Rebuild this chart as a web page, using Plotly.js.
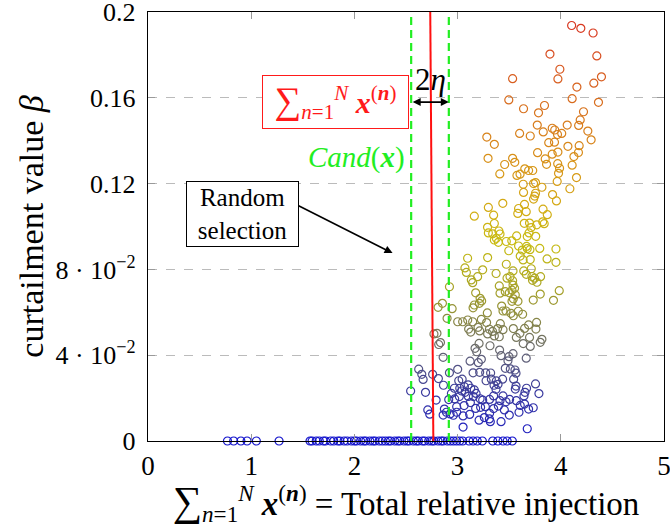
<!DOCTYPE html>
<html>
<head>
<meta charset="utf-8">
<script src="https://cdn.plot.ly/plotly-3.0.1.min.js"></script>
<style>html,body{margin:0;padding:0;background:#fff;}#chart{width:670px;height:527px;}</style>
</head>
<body>
<div id="chart"></div>
<script>
// Upper (red / orange) points
const topX = [4.105,4.194,4.313,3.895,4.349,3.991,3.533,3.972,4.394,4.320,4.156,3.496,4.110,4.365,3.639,3.842,3.784,4.220,4.188,3.772,4.062,4.173];
const topY = [0.1937,0.1924,0.1902,0.1804,0.1795,0.1733,0.1689,0.1688,0.1698,0.1668,0.1650,0.1590,0.1596,0.1579,0.1549,0.1564,0.1530,0.1535,0.1497,0.1473,0.1473,0.1471];
// Orange band
const orangeX = [4.262,4.294,3.283,3.356,3.601,3.704,3.830,3.917,3.941,3.968,4.009,3.883,3.939,4.069,4.178,4.171,4.127,3.775,3.917,3.972,3.849,3.862,3.295,3.533,3.554,3.456,4.110,3.970,3.988,3.978,3.409,3.575,3.605,3.651,3.688,3.728,4.152,3.965,3.636,3.736,3.755,3.817,4.088];
const orangeY = [0.1445,0.1404,0.1417,0.1383,0.1434,0.1422,0.1441,0.1458,0.1450,0.1429,0.1434,0.1391,0.1393,0.1374,0.1377,0.1345,0.1326,0.1344,0.1337,0.1347,0.1315,0.1290,0.1318,0.1318,0.1299,0.1289,0.1286,0.1293,0.1272,0.1248,0.1245,0.1238,0.1244,0.1269,0.1261,0.1261,0.1228,0.1210,0.1197,0.1200,0.1205,0.1183,0.1176];
// Yellow band
const yellowX = [3.639,3.755,3.747,3.736,3.920,3.958,3.438,3.648,3.298,3.591,3.583,3.665,3.828,3.349,3.869,3.162,3.356,3.646,3.697,3.767,3.825,3.839,3.290,3.400,3.712,3.692,3.757,3.340,3.411,3.375,3.356,3.472,3.525,3.572,3.395,3.675,3.298,3.496,3.591,3.627,3.675,3.668,3.701,3.607,3.635,3.704,3.796,3.867,3.953,3.953,3.097,3.291,3.472];
const yellowY = [0.1159,0.1155,0.1142,0.1128,0.1149,0.1119,0.1108,0.1103,0.1089,0.1084,0.1061,0.1069,0.1081,0.1053,0.1055,0.1048,0.1014,0.1015,0.1016,0.1008,0.1022,0.1013,0.0996,0.0979,0.0995,0.0970,0.0954,0.0966,0.0965,0.0945,0.0937,0.0930,0.0933,0.0956,0.0926,0.0953,0.0970,0.0887,0.0909,0.0890,0.0897,0.0907,0.0892,0.0862,0.0844,0.0846,0.0898,0.0849,0.0895,0.0833,0.0852,0.0855,0.0824];
// Olive band
const oliveX = [3.071,3.085,3.243,3.373,3.537,3.641,3.665,3.714,3.720,3.746,3.726,3.769,3.133,3.146,3.194,3.479,3.508,3.533,3.537,3.552,3.527,3.501,3.559,3.540,3.527,3.585,3.404,3.411,3.462,3.175,2.921,3.218,3.233,3.211,3.162,3.150,3.288,2.853,2.811,2.947,2.898,3.733,3.801,3.929,3.985,3.427,3.440,3.469,3.517,3.540,3.588,3.630,3.001,3.049,3.098,3.146,3.230,3.281,3.107,3.127,3.198,3.214,3.308,3.339,3.388,3.414,3.440,3.404,3.356,3.291,3.540,3.569,3.604,3.649,3.688,3.765,3.759,3.817,3.697,2.771,2.800,3.804];
const oliveY = [0.0807,0.0786,0.0798,0.0781,0.0793,0.0793,0.0777,0.0803,0.0767,0.0759,0.0749,0.0740,0.0751,0.0738,0.0766,0.0759,0.0766,0.0747,0.0727,0.0712,0.0703,0.0691,0.0681,0.0663,0.0651,0.0651,0.0723,0.0689,0.0696,0.0691,0.0719,0.0665,0.0653,0.0642,0.0634,0.0621,0.0597,0.0642,0.0623,0.0617,0.0572,0.0657,0.0685,0.0656,0.0701,0.0629,0.0606,0.0606,0.0595,0.0584,0.0605,0.0591,0.0556,0.0556,0.0564,0.0556,0.0567,0.0552,0.0522,0.0508,0.0530,0.0513,0.0521,0.0511,0.0524,0.0547,0.0519,0.0486,0.0490,0.0499,0.0524,0.0483,0.0502,0.0525,0.0541,0.0553,0.0522,0.0474,0.0483,0.0499,0.0502,0.0766];
// Grey transition band
const greyX = [2.834,2.817,2.860,3.169,3.185,3.208,3.121,3.201,3.230,3.314,3.407,3.421,3.498,3.488,3.537,3.665,3.636,3.704,3.801,3.462,3.511,3.556,3.566,2.921];
const greyY = [0.0459,0.0450,0.0390,0.0432,0.0416,0.0455,0.0372,0.0365,0.0381,0.0444,0.0424,0.0398,0.0393,0.0374,0.0407,0.0386,0.0454,0.0441,0.0460,0.0339,0.0336,0.0331,0.0316,0.0318];
// Blue cluster
const blueX = [2.623,2.653,2.666,2.545,2.689,2.758,2.814,2.863,2.792,2.711,2.730,2.914,2.872,2.892,2.860,2.927,3.001,3.011,3.044,3.066,3.102,3.127,3.162,3.179,3.150,3.214,3.272,3.320,3.276,3.327,3.353,3.372,3.349,3.310,3.392,3.375,3.436,3.543,3.566,3.559,3.643,3.668,3.653,3.755,3.788,3.733,3.688,3.649,3.607,3.569,3.504,3.469,3.440,3.411,3.395,3.349,3.310,3.269,3.223,3.175,3.117,3.053,2.991,2.972,3.017,3.063,3.124,2.991,2.959,2.940,2.969,3.243,3.259,3.308,3.421,3.501,3.453,3.595,3.053,3.675,3.208,3.317,3.218,3.153,3.104,3.073,3.040,3.021];
const blueY = [0.0335,0.0311,0.0287,0.0233,0.0227,0.0311,0.0291,0.0260,0.0191,0.0145,0.0125,0.0193,0.0149,0.0134,0.0121,0.0126,0.0334,0.0281,0.0288,0.0253,0.0262,0.0246,0.0238,0.0222,0.0318,0.0320,0.0318,0.0317,0.0281,0.0288,0.0260,0.0241,0.0210,0.0194,0.0264,0.0280,0.0288,0.0288,0.0256,0.0242,0.0210,0.0246,0.0227,0.0266,0.0221,0.0155,0.0149,0.0172,0.0166,0.0188,0.0194,0.0183,0.0210,0.0188,0.0163,0.0151,0.0129,0.0160,0.0157,0.0152,0.0124,0.0117,0.0160,0.0196,0.0207,0.0165,0.0179,0.0134,0.0120,0.0222,0.0246,0.0191,0.0109,0.0103,0.0090,0.0121,0.0145,0.0134,0.0065,0.0057,0.0097,0.0090,0.0197,0.0207,0.0208,0.0227,0.0233,0.0246];
// Points with zero curtailment
const zeroX = [0.77,0.83,0.90,0.96,1.05,1.27,1.57,1.59,1.63,1.66,1.70,1.72,1.77,1.80,1.84,1.86,1.90,1.93,1.97,2.00,2.02,2.06,2.09,2.11,2.15,2.18,2.20,2.24,2.27,2.30,2.33,2.35,2.39,2.42,2.44,2.48,2.51,2.53,2.57,2.60,2.62,2.66,2.68,2.72,2.75,2.77,2.81,2.84,2.86,2.90,2.93,2.96,2.99,3.02,3.05,3.11,3.15,3.19,3.24,3.34,3.39,3.44,3.48,3.53];
const zeroY = [0,0,0,0,0,0,0,0,0,0,0,0,0,0,0,0,0,0,0,0,0,0,0,0,0,0,0,0,0,0,0,0,0,0,0,0,0,0,0,0,0,0,0,0,0,0,0,0,0,0,0,0,0,0,0,0,0,0,0,0,0,0,0,0];

// Reference lines
const sumLineX = [2.765, 2.735];
const sumLineY = [0, 0.2];
const candLow = 2.55;
const candHigh = 2.915;

// Axis ticks
const yTickVals = [0, 0.04, 0.08, 0.12, 0.16, 0.2];
const yTickText = ['0', '4 \u00b7 10<sup>\u22122</sup>', '8 \u00b7 10<sup>\u22122</sup>', '0.12', '0.16', '0.2'];
const xTickVals = [0, 1, 2, 3, 4, 5];
const xTickText = ['0', '1', '2', '3', '4', '5'];

const allX = [].concat(zeroX, blueX, greyX, oliveX, yellowX, orangeX, topX);
const allY = [].concat(zeroY, blueY, greyY, oliveY, yellowY, orangeY, topY);

const FONT = 'Liberation Serif, Times New Roman, serif';
const green = '#22ee22';
const SUM = '<span style="font-size:1.25em">\u2211</span><sub><i>n</i>=1</sub><sup><i>N</i></sup> <b><i>x</i></b><sup>(<b><i>n</i></b>)</sup>';

const traces = [
  {
    type: 'scatter', mode: 'markers', x: allX, y: allY, cliponaxis: false,
    marker: {
      symbol: 'circle-open', size: 8,
      color: allY, cmin: 0, cmax: 0.2, showscale: false,
      colorscale: [[0,'#1414cc'],[0.05,'#2a2ab4'],[0.12,'#3c3c9c'],[0.18,'#585880'],[0.24,'#76765e'],[0.3,'#92903a'],[0.38,'#b0aa20'],[0.46,'#c8bc10'],[0.55,'#d4aa14'],[0.65,'#d89218'],[0.75,'#d8781c'],[0.88,'#d85420'],[1,'#d82c20']],
      line: {width: 1.2}
    },
    hoverinfo: 'x+y'
  },
  {type: 'scatter', mode: 'lines', x: [candLow, candLow], y: [0, 0.2], line: {color: green, width: 2.2, dash: '8px,5px'}},
  {type: 'scatter', mode: 'lines', x: [candHigh, candHigh], y: [0, 0.2], line: {color: green, width: 2.2, dash: '8px,5px'}},
  {type: 'scatter', mode: 'lines', x: sumLineX, y: sumLineY, line: {color: '#ff1010', width: 2}, cliponaxis: false}
];

const layout = {
  width: 670, height: 527,
  margin: {l: 148, r: 6, t: 12, b: 86},
  paper_bgcolor: '#fff', plot_bgcolor: '#fff',
  showlegend: false,
  font: {family: FONT, size: 26, color: '#000'},
  xaxis: {
    range: [0, 5], tickvals: xTickVals, ticktext: xTickText,
    showgrid: false, zeroline: false,
    showline: true, linecolor: '#000', linewidth: 1.2, mirror: 'ticks',
    ticks: 'inside', ticklen: 7, tickcolor: '#999', tickwidth: 1,
    ticklabeloverflow: 'allow',
    tickfont: {family: FONT, size: 27},
    title: {text: SUM + ' = Total relative injection', font: {family: FONT, size: 33}, standoff: 2}
  },
  yaxis: {
    range: [0, 0.2], tickvals: yTickVals, ticktext: yTickText,
    showgrid: true, gridcolor: '#bbbbbb', gridwidth: 1, griddash: 'dash',
    zeroline: false,
    showline: true, linecolor: '#000', linewidth: 1.2, mirror: 'ticks',
    ticks: 'inside', ticklen: 7, tickcolor: '#999', tickwidth: 1,
    ticklabelstandoff: 6, ticklabeloverflow: 'allow',
    tickfont: {family: FONT, size: 26},
    title: {text: 'curtailment value <i>\u03b2</i>', font: {family: FONT, size: 34}, standoff: 1}
  },
  annotations: [
    {x: candHigh, y: 0.158, ax: candLow, ay: 0.158, xref: 'x', yref: 'y', axref: 'x', ayref: 'y',
     showarrow: true, arrowside: 'end+start', arrowhead: 2, arrowsize: 1, arrowwidth: 1.6, arrowcolor: '#000', text: '', standoff: 0, startstandoff: 0},
    {x: 2.735, y: 0.1685, xref: 'x', yref: 'y', showarrow: false, text: '2<i>\u03b7</i>', font: {family: FONT, size: 31, color: '#000'}},
    {x: 1.813, y: 0.158, xref: 'x', yref: 'y', showarrow: false,
     text: SUM, width: 139, height: 46,
     font: {family: FONT, size: 30, color: '#ff1a1a'}, bordercolor: '#ff1a1a', borderwidth: 1, borderpad: 3, bgcolor: '#fff'},
    {x: 2.02, y: 0.1324, xref: 'x', yref: 'y', showarrow: false,
     text: '<i>Cand</i>(<b><i>x</i></b>)', font: {family: FONT, size: 29, color: green}},
    {x: 0.914, y: 0.1058, xref: 'x', yref: 'y', showarrow: false,
     text: 'Random<br>selection', width: 105, height: 58,
     font: {family: FONT, size: 25, color: '#000'}, bordercolor: '#000', borderwidth: 1, borderpad: 3, bgcolor: '#fff'},
    {x: 2.37, y: 0.0876, ax: 1.445, ay: 0.110, xref: 'x', yref: 'y', axref: 'x', ayref: 'y',
     showarrow: true, arrowhead: 2, arrowsize: 1, arrowwidth: 1.6, arrowcolor: '#000', text: '', standoff: 0}
  ]
};

Plotly.newPlot('chart', traces, layout, {displayModeBar: false, staticPlot: true});
</script>
</body>
</html>
